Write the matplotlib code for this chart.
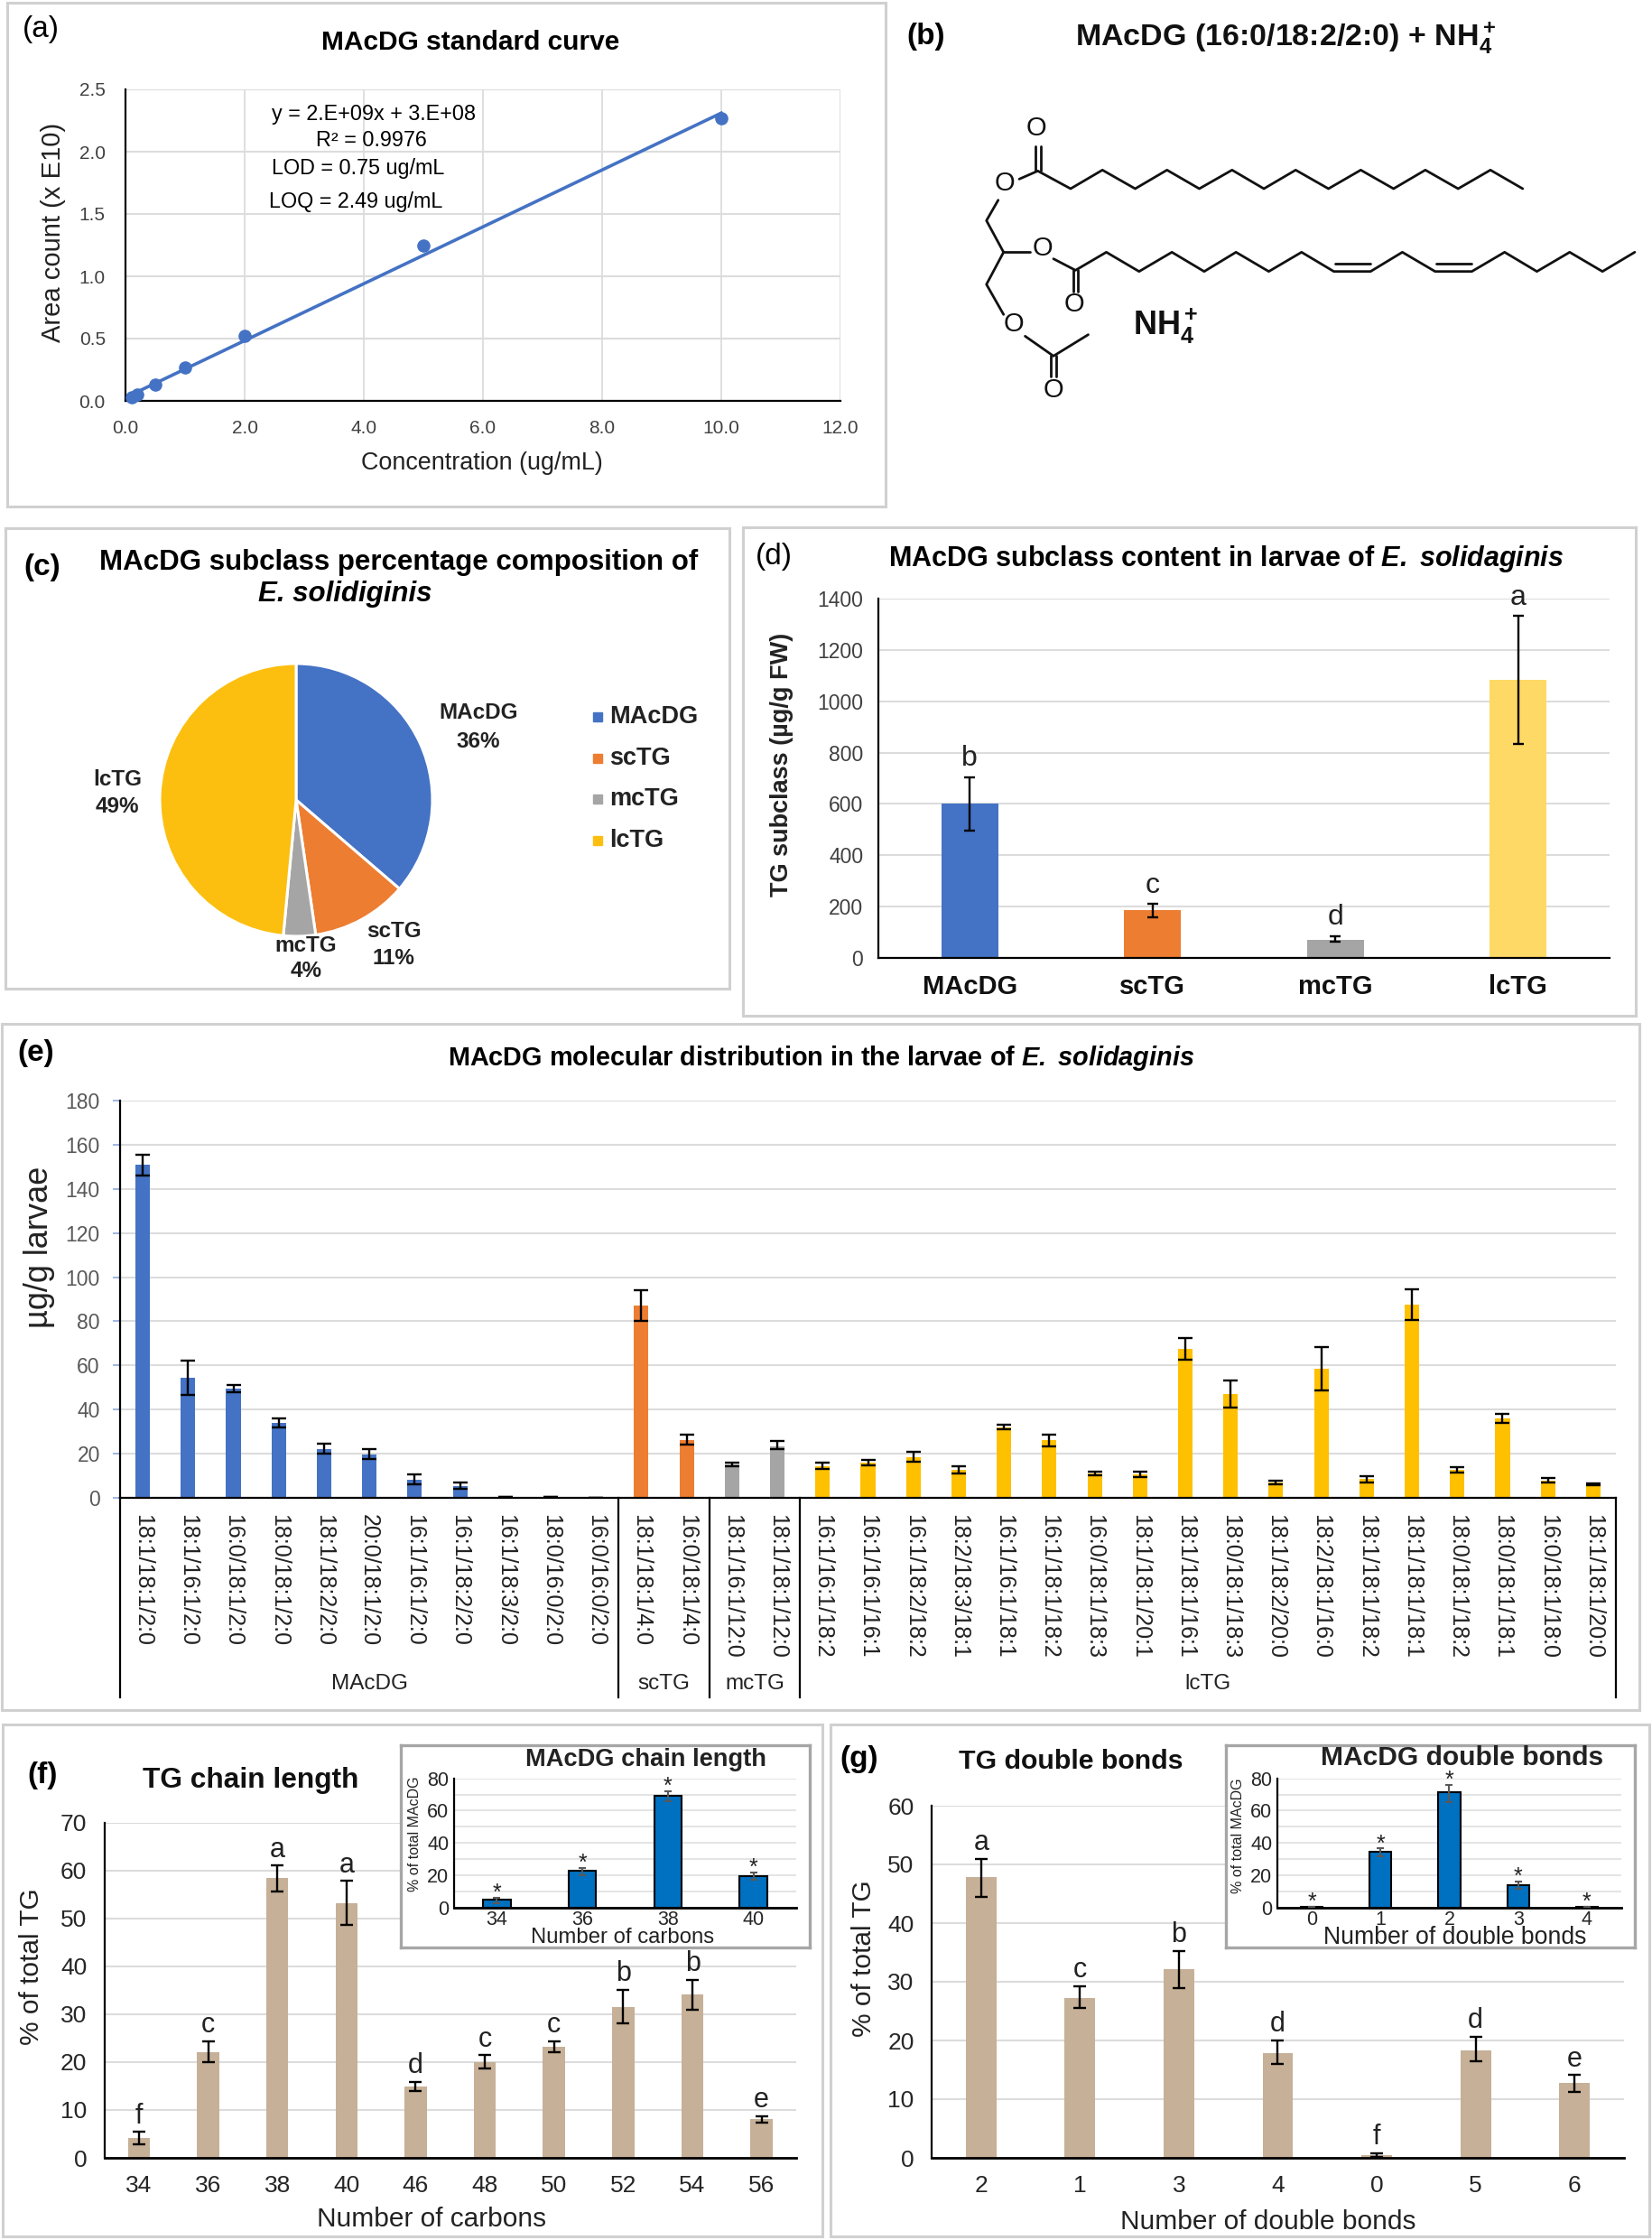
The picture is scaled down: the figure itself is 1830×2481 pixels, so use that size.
#!/usr/bin/env python3

import matplotlib
matplotlib.use('Agg')
import matplotlib.pyplot as plt
from matplotlib.patches import Rectangle

W, H = 1830, 2481

# (a) standard curve
conc = [0.1, 0.2, 0.5, 1.0, 2.0, 5.0, 10.0]
area = [0.03, 0.05, 0.13, 0.27, 0.52, 1.25, 2.27]
trend_x = [0.1, 10.0]
trend_y = [0.05, 2.31]

# (c) pie
subclass = ['MAcDG', 'scTG', 'mcTG', 'lcTG']
subclass_pct = [36.3, 11.4, 3.8, 48.5]

# (d) subclass content
d_vals = [600, 185, 72, 1082]
d_hi = [705, 210, 85, 1332]
d_lo = [495, 160, 62, 832]
d_letters = ['b', 'c', 'd', 'a']

# (e) molecular species
e_names = [
    '18:1/18:1/2:0', '18:1/16:1/2:0', '16:0/18:1/2:0', '18:0/18:1/2:0',
    '18:1/18:2/2:0', '20:0/18:1/2:0', '16:1/16:1/2:0', '16:1/18:2/2:0',
    '16:1/18:3/2:0', '18:0/16:0/2:0', '16:0/16:0/2:0',
    '18:1/18:1/4:0', '16:0/18:1/4:0',
    '18:1/16:1/12:0', '18:1/18:1/12:0',
    '16:1/16:1/18:2', '16:1/16:1/16:1', '16:1/18:2/18:2', '18:2/18:3/18:1',
    '16:1/16:1/18:1', '16:1/18:1/18:2', '16:0/18:1/18:3', '18:1/18:1/20:1',
    '18:1/18:1/16:1', '18:0/18:1/18:3', '18:1/18:2/20:0', '18:2/18:1/16:0',
    '18:1/18:1/18:2', '18:1/18:1/18:1', '18:0/18:1/18:2', '18:0/18:1/18:1',
    '16:0/18:1/18:0', '18:1/18:1/20:0',
]
e_vals = [151, 54.5, 49.5, 34, 22, 19.5, 8, 5.3, 0.5, 0.4, 0.2,
          87, 26,
          15, 23.5,
          14.5, 16, 18.5, 12.7, 32, 26, 11, 10.7, 67.5, 47, 7, 58.5, 8.5, 87.5, 12.7, 36, 7.8, 6.2]
e_hi = [155.5, 62, 51, 36, 24.5, 22, 10.5, 6.8, 0.5, 0.4, 0.2,
        94, 28.5,
        16, 25.8,
        15.9, 17.3, 20.7, 14.3, 33.1, 28.8, 11.8, 11.8, 72.5, 53, 7.9, 68.5, 9.9, 94.5, 13.9, 38, 8.8, 6.6]
e_lo = [146, 46.5, 48, 32, 20, 17.5, 6, 4.2, 0.5, 0.4, 0.2,
        80, 24,
        14.2, 22,
        13.1, 14.7, 16.3, 11.1, 30.9, 23.2, 10.2, 9.6, 62.5, 41, 6.3, 48.5, 7.1, 80.5, 11.5, 34, 6.8, 5.8]
e_groups = ['MAcDG', 'scTG', 'mcTG', 'lcTG']
e_group_sizes = [11, 2, 2, 18]

# (f) chain length
f_names = ['34', '36', '38', '40', '46', '48', '50', '52', '54', '56']
f_vals = [4.1, 22.1, 58.5, 53.2, 14.8, 19.9, 23.2, 31.5, 34.1, 8.1]
f_hi = [5.4, 24.4, 61, 57.8, 15.8, 21.4, 24.4, 35.1, 37.1, 8.7]
f_lo = [2.9, 19.9, 55.6, 48.6, 13.9, 18.6, 22, 28, 30.9, 7.3]
f_letters = ['f', 'c', 'a', 'a', 'd', 'c', 'c', 'b', 'b', 'e']

f_in_names = ['34', '36', '38', '40']
f_in_vals = [4.8, 22.6, 69.2, 19.5]
f_in_hi = [5.8, 24.6, 72, 21.6]
f_in_lo = [2.6, 19.8, 65.6, 17]

# (g) double bonds
g_names = ['2', '1', '3', '4', '0', '5', '6']
g_vals = [47.8, 27.2, 32.1, 17.8, 0.5, 18.3, 12.7]
g_hi = [50.9, 29.2, 35.2, 20, 0.8, 20.6, 14.1]
g_lo = [44.4, 25.6, 29, 16, 0.2, 16.5, 11.3]
g_letters = ['a', 'c', 'b', 'd', 'f', 'd', 'e']

g_in_names = ['0', '1', '2', '3', '4']
g_in_vals = [0.3, 34.4, 71.3, 14, 0.4]
g_in_hi = [0.3, 36.5, 75.8, 15.9, 0.4]
g_in_lo = [0.3, 32, 65.5, 11.6, 0.4]

# (b) structure
chain_1 = [(275, 595), (313, 568), (380, 627), (445, 565), (512, 627), (577, 565), (643, 627),
           (710, 565), (775, 627), (840, 565), (907, 627), (973, 565), (1040, 627), (1105, 565),
           (1172, 627), (1238, 565), (1304, 627)]
chain_2 = [(345, 860), (390, 898), (453, 838), (520, 902), (587, 838), (653, 902), (718, 838),
           (785, 902), (852, 838), (918, 902), (993, 902), (1058, 838), (1125, 902), (1200, 902),
           (1267, 838), (1333, 902), (1400, 838), (1467, 902), (1533, 838)]
backbone = [(232, 665), (208, 733), (243, 838), (208, 945), (243, 1045)]
middle_bond = [(243, 838), (297, 838)]
acetyl = [(287, 1117), (345, 1183), (416, 1112)]
extra_bonds = [
    [(309, 568), (309, 485)], [(319, 568), (319, 485)],
    [(385, 898), (385, 970)], [(395, 898), (395, 970)],
    [(340, 1183), (340, 1250)], [(350, 1183), (350, 1250)],
    [(920, 877), (992, 877)], [(1127, 877), (1200, 877)],
]
oxygens = [(245, 608), (310, 425), (322, 825), (387, 1010), (263, 1078), (345, 1295)]

BLUE, ORANGE, GREY, GOLD = '#4472c4', '#ed7d31', '#a5a5a5', '#ffc000'
TAN = '#c6b097'
GRID = '#dcdcdc'
FRAME = '#d0d0d0'

plt.rcParams['font.family'] = ['Liberation Sans', 'DejaVu Sans']
plt.rcParams['mathtext.fontset'] = 'custom'
plt.rcParams['mathtext.rm'] = 'Liberation Sans'
plt.rcParams['mathtext.it'] = 'Liberation Sans:italic'
plt.rcParams['mathtext.bf'] = 'Liberation Sans:bold'
plt.rcParams['mathtext.bfit'] = 'Liberation Sans:italic:bold'
plt.rcParams['mathtext.default'] = 'regular'

fig = plt.figure(figsize=(W / 100, H / 100), dpi=100)


def px_axes(left, top, right, bottom, **kwargs):
    return fig.add_axes([left / W, 1 - bottom / H, (right - left) / W, (bottom - top) / H], **kwargs)


# background holds panel frames, top holds free text in pixel coordinates
bg = px_axes(0, 0, W, H, zorder=0)
bg.set_xlim(0, W)
bg.set_ylim(H, 0)
bg.axis('off')
top = px_axes(0, 0, W, H, zorder=10)
top.set_xlim(0, W)
top.set_ylim(H, 0)
top.axis('off')
top.patch.set_alpha(0)

for l, t, r, b in [(8, 3, 981, 561), (6, 584.5, 808, 1095), (823, 583.6, 1812, 1125),
                   (2, 1134, 1816, 1894), (3, 1910, 911, 2477), (920, 1910, 1827, 2477)]:
    bg.add_patch(Rectangle((l, t), r - l, b - t, fill=False, edgecolor=FRAME, linewidth=2.2))


def txt(x, y, s, size, **kwargs):
    kwargs.setdefault('ha', 'center')
    kwargs.setdefault('va', 'center')
    return top.text(x, y, s, fontsize=size, **kwargs)


def style_axes(ax, tick_size, tick_color='#404040', ygrid_lw=1.5):
    ax.spines[['top', 'right']].set_visible(False)
    ax.spines[['left', 'bottom']].set_linewidth(1.6)
    ax.set_axisbelow(True)
    ax.grid(axis='y', color=GRID, linewidth=ygrid_lw)
    ax.tick_params(axis='both', length=0, labelsize=tick_size, labelcolor=tick_color)


def set_labels(ax, xlabel=None, xpos=None, ylabel=None, ypos=None, size=20, **kwargs):
    if xlabel:
        ax.set_xlabel(xlabel, fontsize=size, va='center', color='#222222', **kwargs)
        ax.xaxis.set_label_coords(*xpos, transform=top.transData)
    if ylabel:
        ax.set_ylabel(ylabel, fontsize=size, va='center', color='#222222', **kwargs)
        ax.yaxis.set_label_coords(*ypos, transform=top.transData)


def err_bars(ax, x, vals, hi, lo, color='black', lw=1.7, cap=5):
    yerr = [[v - l for v, l in zip(vals, lo)], [h - v for v, h in zip(vals, hi)]]
    ax.errorbar(x, vals, yerr=yerr, fmt='none', ecolor=color, elinewidth=lw, capsize=cap, capthick=lw, zorder=5)


def bar_panel(ax, names, vals, hi, lo, color, width=0.32, **kwargs):
    x = list(range(len(names)))
    ax.bar(x, vals, width=width, color=color, **kwargs)
    ax.set_xlim(-0.5, len(names) - 0.5)
    ax.set_xticks(x)
    ax.set_xticklabels(names)
    return x


def letters(ax, x, hi, labels, size=22, dy=2):
    for xi, h, s in zip(x, hi, labels):
        ax.annotate(s, xy=(xi, h), xytext=(0, dy), textcoords='offset points',
                    ha='center', va='bottom', fontsize=size, color='#222222', zorder=6, annotation_clip=False)


# (a)
ax = px_axes(139, 99, 931, 444, zorder=1)
style_axes(ax, 15)
ax.grid(axis='x', color=GRID, linewidth=1.3)
ax.plot(trend_x, trend_y, color=BLUE, linewidth=2.6)
ax.plot(conc, area, 'o', color=BLUE, markersize=9.5, clip_on=False, zorder=4)
ax.set_xlim(0, 12)
ax.set_ylim(0, 2.5)
ax.set_xticks([0, 2, 4, 6, 8, 10, 12])
ax.set_xticklabels(['0.0', '2.0', '4.0', '6.0', '8.0', '10.0', '12.0'])
ax.set_yticks([0, 0.5, 1, 1.5, 2, 2.5])
ax.set_yticklabels(['0.0', '0.5', '1.0', '1.5', '2.0', '2.5'])
ax.tick_params(axis='x', pad=15)
ax.tick_params(axis='y', pad=16)
set_labels(ax, 'Concentration (ug/mL)', (534, 513), size=19.4)
set_labels(ax, ylabel='Area count (x E10)', ypos=(59, 257), size=21)
txt(521, 47, 'MAcDG standard curve', 21.5, fontweight='bold')
txt(45, 33, '(a)', 24)
txt(414, 127, 'y = 2.E+09x + 3.E+08', 16.8)
txt(411, 156, 'R² = 0.9976', 16.8)
txt(301, 186.5, 'LOD = 0.75 ug/mL', 16.8, ha='left')
txt(298, 223.5, 'LOQ = 2.49 ug/mL', 16.8, ha='left')

# (b)
def bx(p):
    return [980 + q[0] / 1.845 for q in p]


def by(p):
    return [q[1] / 3.0 for q in p]


for seg in [chain_1, chain_2, backbone, middle_bond, acetyl] + extra_bonds:
    top.plot(bx(seg), by(seg), color='#111111', linewidth=2.0, solid_capstyle='round')
for p in oxygens:
    txt(bx([p])[0], by([p])[0], 'O', 21, color='#111111')
txt(1026, 40, '(b)', 24, fontweight='bold')
txt(1424, 42, r'MAcDG (16:0/18:2/2:0) + NH$_4^+$', 24.5, fontweight='bold', color='#111111')
txt(1291, 361, r'NH$_4^+$', 26, fontweight='bold', color='#111111')

# (c)
pie_r = 151
ax = px_axes(328 - pie_r - 4, 886 - pie_r - 4, 328 + pie_r + 4, 886 + pie_r + 4, zorder=1)
ax.pie(subclass_pct, colors=[BLUE, ORANGE, GREY, '#fcbf10'], startangle=90, counterclock=False,
       wedgeprops=dict(edgecolor='white', linewidth=2.2))
lim = (pie_r + 4) / pie_r
ax.set_xlim(-lim, lim)
ax.set_ylim(-lim, lim)
txt(47, 629, '(c)', 24, fontweight='bold')
txt(442, 623, 'MAcDG subclass percentage composition of', 22.5, fontweight='bold')
txt(382, 658, 'E. solidiginis', 22.5, fontweight='bold', style='italic')
pie_labels = [('MAcDG', '36%', 530, 790, 821), ('lcTG', '49%', 130, 864, 893),
              ('mcTG', '4%', 339, 1047, 1076), ('scTG', '11%', 436, 1031, 1061)]
for name, pct, x, y1, y2 in pie_labels:
    txt(x, y1, name, 17.5, fontweight='bold', color='#222222')
    txt(x, y2, pct, 17.5, fontweight='bold', color='#222222')
for name, col, y in zip(subclass, [BLUE, ORANGE, GREY, '#fcbf10'], [794, 840, 885, 931]):
    top.add_patch(Rectangle((657, y - 5), 10, 10, color=col))
    txt(675, y, name, 19.5, ha='left', fontweight='bold', color='#222222')

# (d)
ax = px_axes(973, 663, 1783, 1061, zorder=1)
style_axes(ax, 16.5)
x = bar_panel(ax, subclass, d_vals, d_hi, d_lo, [BLUE, ORANGE, GREY, '#ffd966'], width=0.31)
err_bars(ax, x, d_vals, d_hi, d_lo, cap=4)
letters(ax, x, d_hi, d_letters, size=23, dy=4)
ax.set_ylim(0, 1400)
ax.set_yticks(range(0, 1401, 200))
ax.tick_params(axis='y', pad=12)
ax.tick_params(axis='x', pad=13, labelsize=21, labelcolor='#111111')
for lab in ax.get_xticklabels():
    lab.set_fontweight('bold')
set_labels(ax, ylabel='TG subclass (µg/g FW)', ypos=(866, 847), size=19.5, fontweight='bold')
txt(857, 617, '(d)', 24)
txt(1358, 619, r'MAcDG subclass content in larvae of $\mathbfit{E.\ solidaginis}$', 22, fontweight='bold')

# (e)
ax = px_axes(133, 1219, 1790, 1659, zorder=1)
style_axes(ax, 16.5, '#595959')
e_colors = []
for col, n in zip([BLUE, ORANGE, GREY, GOLD], e_group_sizes):
    e_colors += [col] * n
x = bar_panel(ax, e_names, e_vals, e_hi, e_lo, e_colors)
err_bars(ax, x, e_vals, e_hi, e_lo, lw=1.7, cap=5.5)
ax.set_ylim(0, 180)
ax.set_yticks(range(0, 181, 20))
ax.tick_params(axis='y', length=6, color='#8ea9db', width=1.2, pad=10)
ax.tick_params(axis='x', pad=13, labelsize=18, labelcolor='#222222')
for lab in ax.get_xticklabels():
    lab.set_rotation(270)
set_labels(ax, ylabel='µg/g larvae', ypos=(44, 1381), size=26)
txt(40, 1166, '(e)', 24, fontweight='bold')
txt(910, 1172, r'MAcDG molecular distribution in the larvae of $\mathbfit{E.\ solidaginis}$', 20.8, fontweight='bold')
sep = ax.get_xaxis_transform()
start = -0.5
for i, (name, n) in enumerate(zip(e_groups, e_group_sizes)):
    end = start + n
    ax.plot([end, end], [0, -0.503], transform=sep, color='black', linewidth=1.6, clip_on=False)
    if i == 0:
        ax.plot([start, start], [0, -0.503], transform=sep, color='black', linewidth=1.6, clip_on=False)
    ax.text((start + end) / 2, -0.468, name, transform=sep, fontsize=17.5, ha='center', va='center', color='#222222')
    start = end


def inset(frame, box, names, vals, hi, lo, title, title_pos, title_size, xlabel, xpos, xsize, ypos):
    fr = px_axes(*frame, zorder=3, facecolor='white')
    fr.set_xticks([])
    fr.set_yticks([])
    for s in fr.spines.values():
        s.set_color('#a6a6a6')
        s.set_linewidth(2.4)
    ax = px_axes(*box, zorder=4, facecolor='none')
    style_axes(ax, 15.5, '#262626', ygrid_lw=1.1)
    x = bar_panel(ax, names, vals, hi, lo, '#0070c0', edgecolor='black', linewidth=1.5)
    err_bars(ax, x, vals, hi, lo, color='#595959', lw=1.5, cap=3)
    for xi, h in zip(x, hi):
        ax.annotate('*', xy=(xi, h), xytext=(0, -5), textcoords='offset points', ha='center', va='bottom',
                    fontsize=18, color='#222222', annotation_clip=False)
    ax.set_ylim(0, 80)
    ax.set_yticks(range(0, 81, 10))
    ax.set_yticklabels(['0', '', '20', '', '40', '', '60', '', '80'])
    ax.tick_params(axis='y', pad=4)
    ax.tick_params(axis='x', pad=2.5)
    ax.spines['bottom'].set_linewidth(2)
    set_labels(ax, xlabel, xpos, None, None, size=xsize)
    set_labels(ax, ylabel='% of total MAcDG', ypos=ypos, size=11.5)
    txt(*title_pos, title, title_size, fontweight='bold', color='#222222')


# (f)
ax = px_axes(115.6, 2018.6, 882, 2390, zorder=1)
style_axes(ax, 19, '#262626')
x = bar_panel(ax, f_names, f_vals, f_hi, f_lo, TAN)
err_bars(ax, x, f_vals, f_hi, f_lo)
letters(ax, x, f_hi, f_letters)
ax.set_ylim(0, 70)
ax.set_yticks(range(0, 71, 10))
ax.tick_params(axis='y', pad=14)
ax.tick_params(axis='x', pad=14)
ax.spines['bottom'].set_linewidth(2)
set_labels(ax, 'Number of carbons', (478, 2458), '% of total TG', (35, 2178.6), size=21.5)
txt(47, 1967, '(f)', 24, fontweight='bold')
txt(278, 1972, 'TG chain length', 22.8, fontweight='bold', color='#111111')
inset((444, 1932.6, 897, 2156.8), (503, 1969.7, 882, 2112.7), f_in_names, f_in_vals, f_in_hi, f_in_lo,
      'MAcDG chain length', (715, 1949), 19.6, 'Number of carbons', (690, 2146), 17.2, (459, 2031.5))

# (g)
ax = px_axes(1032, 2000, 1799, 2390, zorder=1)
style_axes(ax, 19, '#262626')
x = bar_panel(ax, g_names, g_vals, g_hi, g_lo, TAN, width=0.31)
err_bars(ax, x, g_vals, g_hi, g_lo)
letters(ax, x, g_hi, g_letters)
ax.set_ylim(0, 60)
ax.set_yticks(range(0, 61, 10))
ax.tick_params(axis='y', pad=14)
ax.tick_params(axis='x', pad=14)
ax.spines['bottom'].set_linewidth(2)
set_labels(ax, 'Number of double bonds', (1405, 2460.6), '% of total TG', (957, 2169), size=21.5)
txt(952, 1948, '(g)', 24, fontweight='bold')
txt(1186, 1951, 'TG double bonds', 21.8, fontweight='bold', color='#111111')
inset((1358, 1932.6, 1811, 2156.8), (1415, 1969.7, 1796, 2112.7), g_in_names, g_in_vals, g_in_hi, g_in_lo,
      'MAcDG double bonds', (1620, 1947), 21.6, 'Number of double bonds', (1612, 2146), 19.2, (1372, 2033))

fig.savefig('out.png', dpi=100)
